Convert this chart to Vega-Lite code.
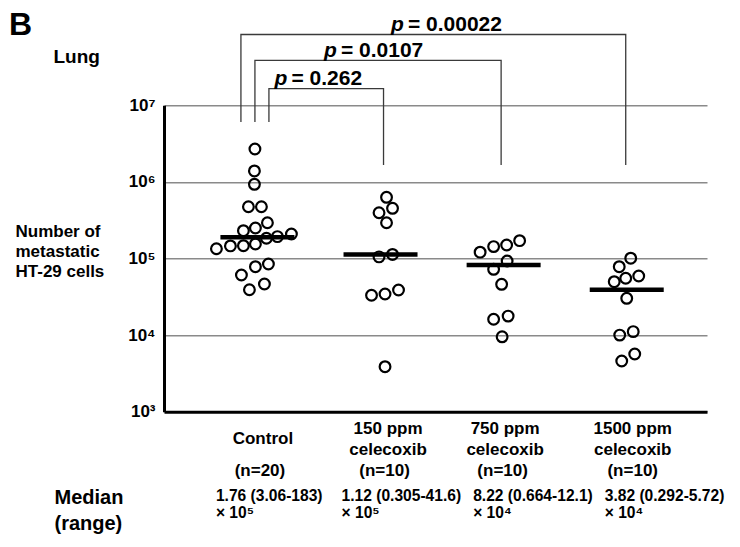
{
  "$schema": "https://vega.github.io/schema/vega-lite/v6.json",
  "width": 543,
  "height": 306.4,
  "autosize": {"type": "none"},
  "padding": {"left": 164, "top": 105.3, "right": 33, "bottom": 135.3},
  "background": "white",
  "title": {"text": "B", "anchor": "start", "frame": "group", "font": "Liberation Sans", "fontSize": 32, "fontWeight": "bold", "color": "black", "baseline": "alphabetic", "offset": 0, "dx": -155, "dy": 53},
  "config": {
    "view": {"stroke": null},
    "axis": {"labelFont": "Liberation Sans", "titleFont": "Liberation Sans", "labelFontWeight": "bold", "titleFontWeight": "bold", "labelColor": "black", "titleColor": "black"}
  },
  "resolve": {"axis": {"x": "independent"}},
  "layer": [
    {
      "data": {"values": [
        {"group": "Control", "value": 2690000, "jitter": -2.5},
        {"group": "Control", "value": 1390000, "jitter": -3},
        {"group": "Control", "value": 930000, "jitter": -3},
        {"group": "Control", "value": 474000, "jitter": -9},
        {"group": "Control", "value": 474000, "jitter": 4},
        {"group": "Control", "value": 293000, "jitter": 10},
        {"group": "Control", "value": 231000, "jitter": -14},
        {"group": "Control", "value": 250000, "jitter": -2},
        {"group": "Control", "value": 209000, "jitter": 34},
        {"group": "Control", "value": 184000, "jitter": 9},
        {"group": "Control", "value": 193000, "jitter": 20},
        {"group": "Control", "value": 134000, "jitter": -41},
        {"group": "Control", "value": 146000, "jitter": -27},
        {"group": "Control", "value": 147000, "jitter": -14},
        {"group": "Control", "value": 155000, "jitter": -2},
        {"group": "Control", "value": 84800, "jitter": 11},
        {"group": "Control", "value": 78200, "jitter": -2},
        {"group": "Control", "value": 60900, "jitter": -16},
        {"group": "Control", "value": 46500, "jitter": 7},
        {"group": "Control", "value": 39100, "jitter": -8},
        {"group": "150 ppm", "value": 629000, "jitter": 6},
        {"group": "150 ppm", "value": 452000, "jitter": 12},
        {"group": "150 ppm", "value": 396000, "jitter": -1.5},
        {"group": "150 ppm", "value": 293000, "jitter": 6},
        {"group": "150 ppm", "value": 105000, "jitter": -1.5},
        {"group": "150 ppm", "value": 113000, "jitter": 12},
        {"group": "150 ppm", "value": 33100, "jitter": -9},
        {"group": "150 ppm", "value": 34400, "jitter": 4.5},
        {"group": "150 ppm", "value": 38800, "jitter": 18},
        {"group": "150 ppm", "value": 3870, "jitter": 4.5},
        {"group": "750 ppm", "value": 121000, "jitter": -23.5},
        {"group": "750 ppm", "value": 143000, "jitter": -10},
        {"group": "750 ppm", "value": 150000, "jitter": 3},
        {"group": "750 ppm", "value": 171000, "jitter": 16},
        {"group": "750 ppm", "value": 92700, "jitter": 3.5},
        {"group": "750 ppm", "value": 72200, "jitter": -10},
        {"group": "750 ppm", "value": 46000, "jitter": -2},
        {"group": "750 ppm", "value": 16100, "jitter": -10},
        {"group": "750 ppm", "value": 17700, "jitter": 4.5},
        {"group": "750 ppm", "value": 9500, "jitter": -1.5},
        {"group": "1500 ppm", "value": 101000, "jitter": 4},
        {"group": "1500 ppm", "value": 78200, "jitter": -7.5},
        {"group": "1500 ppm", "value": 59100, "jitter": 12},
        {"group": "1500 ppm", "value": 55200, "jitter": -1},
        {"group": "1500 ppm", "value": 49800, "jitter": -12.5},
        {"group": "1500 ppm", "value": 30200, "jitter": 0},
        {"group": "1500 ppm", "value": 11100, "jitter": 6.5},
        {"group": "1500 ppm", "value": 10000, "jitter": -7},
        {"group": "1500 ppm", "value": 5660, "jitter": 8},
        {"group": "1500 ppm", "value": 4590, "jitter": -5}
      ]},
      "mark": {"type": "point", "shape": "circle", "filled": false, "stroke": "black", "strokeWidth": 2.2, "size": 115, "opacity": 1},
      "encoding": {
        "x": {"field": "group", "type": "nominal", "sort": ["Control", "150 ppm", "750 ppm", "1500 ppm"],
          "scale": {"domain": ["Control", "150 ppm", "750 ppm", "1500 ppm"], "paddingInner": 0, "paddingOuter": 0.2055, "align": 0.63},
          "axis": {"orient": "bottom", "title": "Lung", "titleFontSize": 19, "titleAlign": "left", "titleAnchor": "start", "titleBaseline": "alphabetic", "titleX": -111, "titleY": -349, "titleAngle": 0,
            "domain": true, "domainColor": "black", "domainWidth": 3, "ticks": false, "labelAngle": 0, "labelFontSize": 17, "labelLineHeight": 20.6, "labelBaseline": "top",
            "labelPadding": {"condition": {"test": "datum.value == 'Control'", "value": 19}, "value": 9},
            "labelOffset": {"condition": [{"test": "datum.value == 'Control'", "value": 5.5}, {"test": "datum.value == '150 ppm'", "value": 7.5}, {"test": "datum.value == '750 ppm'", "value": 1.5}], "value": 6},
            "labelExpr": "datum.value == 'Control' ? 'Control' : [datum.value, 'celecoxib']"}},
        "xOffset": {"field": "jitter", "type": "quantitative", "scale": {"domain": [-61.55, 61.55], "range": [0, 123.1]}},
        "y": {"field": "value", "type": "quantitative", "scale": {"type": "log", "domain": [1000, 10000000], "nice": false},
          "axis": {"title": ["Number of", "metastatic", "HT-29 cells"], "titleAngle": 0, "titleAlign": "left", "titleAnchor": "start", "titleBaseline": "alphabetic", "titleX": -149, "titleY": 131, "titleFontSize": 17, "titleLineHeight": 20,
            "values": [1000, 10000, 100000, 1000000, 10000000], "labelExpr": "datum.value == 1000 ? '10³' : datum.value == 10000 ? '10⁴' : datum.value == 100000 ? '10⁵' : datum.value == 1000000 ? '10⁶' : '10⁷'",
            "labelFontSize": 17, "labelPadding": 9, "ticks": false, "domain": true, "domainColor": "black", "domainWidth": 3,
            "grid": true, "gridColor": "#8a8a8a", "gridWidth": 1.4}}
      }
    },
    {
      "data": {"values": [
        {"group": "Control", "value": 190000},
        {"group": "150 ppm", "value": 113000},
        {"group": "750 ppm", "value": 82200},
        {"group": "1500 ppm", "value": 39000}
      ]},
      "mark": {"type": "tick", "color": "black", "thickness": 4.5, "size": 74, "opacity": 1},
      "encoding": {
        "x": {"field": "group", "type": "nominal",
          "scale": {"domain": ["Control", "150 ppm", "750 ppm", "1500 ppm"], "paddingInner": 0, "paddingOuter": 0.2055, "align": 0.63},
          "axis": {"orient": "bottom", "offset": 0, "title": ["Median", "(range)"], "titleFontSize": 20, "titleLineHeight": 26, "titleAlign": "left", "titleAnchor": "start", "titleBaseline": "alphabetic", "titleX": -110, "titleY": 92, "titleAngle": 0,
            "domain": false, "ticks": false, "labelAngle": 0, "labelFontSize": 15.6, "labelLineHeight": 16.5, "labelPadding": 77, "labelBaseline": "top", "labelAlign": "left",
            "labelOffset": {"condition": [{"test": "datum.value == 'Control'", "value": -41.5}, {"test": "datum.value == '150 ppm'", "value": -39}, {"test": "datum.value == '750 ppm'", "value": -30.5}], "value": -22},
            "labelExpr": "datum.value == 'Control' ? ['1.76 (3.06-183)', '× 10⁵'] : datum.value == '150 ppm' ? ['1.12 (0.305-41.6)', '× 10⁵'] : datum.value == '750 ppm' ? ['8.22 (0.664-12.1)', '× 10⁴'] : ['3.82 (0.292-5.72)', '× 10⁴']"}},
        "y": {"field": "value", "type": "quantitative", "scale": {"type": "log", "domain": [1000, 10000000], "nice": false}}
      }
    },
    {
      "data": {"values": [
        {"bracket": "outer", "group": "Control", "shift": -16.5, "value": 6050000, "ord": 0},
        {"bracket": "outer", "group": "Control", "shift": -16.5, "value": 84000000, "ord": 1},
        {"bracket": "outer", "group": "1500 ppm", "shift": -1, "value": 84000000, "ord": 2},
        {"bracket": "outer", "group": "1500 ppm", "shift": -1, "value": 1660000, "ord": 3},
        {"bracket": "middle", "group": "Control", "shift": -2.5, "value": 6050000, "ord": 0},
        {"bracket": "middle", "group": "Control", "shift": -2.5, "value": 38700000, "ord": 1},
        {"bracket": "middle", "group": "750 ppm", "shift": -2.5, "value": 38700000, "ord": 2},
        {"bracket": "middle", "group": "750 ppm", "shift": -2.5, "value": 1660000, "ord": 3},
        {"bracket": "inner", "group": "Control", "shift": 11.5, "value": 6050000, "ord": 0},
        {"bracket": "inner", "group": "Control", "shift": 11.5, "value": 16500000, "ord": 1},
        {"bracket": "inner", "group": "150 ppm", "shift": 3, "value": 16500000, "ord": 2},
        {"bracket": "inner", "group": "150 ppm", "shift": 3, "value": 1660000, "ord": 3}
      ]},
      "mark": {"type": "line", "color": "#3a3a3a", "strokeWidth": 1.3, "clip": false},
      "encoding": {
        "x": {"field": "group", "type": "nominal",
          "scale": {"domain": ["Control", "150 ppm", "750 ppm", "1500 ppm"], "paddingInner": 0, "paddingOuter": 0.2055, "align": 0.63},
          "axis": {"orient": "bottom", "offset": 0, "title": null, "domain": false, "ticks": false, "labelAngle": 0, "labelFontSize": 17, "labelPadding": 50.5, "labelBaseline": "top",
            "labelOffset": {"condition": [{"test": "datum.value == 'Control'", "value": 2.5}, {"test": "datum.value == '150 ppm'", "value": 4}, {"test": "datum.value == '750 ppm'", "value": -1}], "value": 6},
            "labelExpr": "datum.value == 'Control' ? '(n=20)' : '(n=10)'"}},
        "xOffset": {"field": "shift", "type": "quantitative", "scale": {"domain": [-61.55, 61.55], "range": [0, 123.1]}},
        "y": {"field": "value", "type": "quantitative", "scale": {"type": "log", "domain": [1000, 10000000], "nice": false}},
        "detail": {"field": "bracket", "type": "nominal"},
        "order": {"field": "ord", "type": "quantitative"}
      }
    },
    {
      "data": {"name": "plabels", "values": [
        {"group": "Control", "shift": 146.5, "value": 93300000, "p": "p", "rest": "= 0.00022"},
        {"group": "Control", "shift": 79.5, "value": 42400000, "p": "p", "rest": "= 0.0107"},
        {"group": "Control", "shift": 30, "value": 18400000, "p": "p", "rest": "= 0.262"}
      ]},
      "mark": {"type": "text", "align": "right", "baseline": "alphabetic", "font": "Liberation Sans", "fontSize": 21, "fontWeight": "bold", "fontStyle": "italic", "color": "black", "clip": false},
      "encoding": {
        "x": {"field": "group", "type": "nominal", "axis": null,
          "scale": {"domain": ["Control", "150 ppm", "750 ppm", "1500 ppm"], "paddingInner": 0, "paddingOuter": 0.2055, "align": 0.63}},
        "xOffset": {"field": "shift", "type": "quantitative", "scale": {"domain": [-61.55, 61.55], "range": [0, 123.1]}},
        "y": {"field": "value", "type": "quantitative", "scale": {"type": "log", "domain": [1000, 10000000], "nice": false}},
        "text": {"field": "p", "type": "nominal"}
      }
    },
    {
      "data": {"name": "plabels"},
      "mark": {"type": "text", "align": "left", "baseline": "alphabetic", "dx": 4, "font": "Liberation Sans", "fontSize": 21, "fontWeight": "bold", "color": "black", "clip": false},
      "encoding": {
        "x": {"field": "group", "type": "nominal", "axis": null,
          "scale": {"domain": ["Control", "150 ppm", "750 ppm", "1500 ppm"], "paddingInner": 0, "paddingOuter": 0.2055, "align": 0.63}},
        "xOffset": {"field": "shift", "type": "quantitative", "scale": {"domain": [-61.55, 61.55], "range": [0, 123.1]}},
        "y": {"field": "value", "type": "quantitative", "scale": {"type": "log", "domain": [1000, 10000000], "nice": false}},
        "text": {"field": "rest", "type": "nominal"}
      }
    }
  ]
}
